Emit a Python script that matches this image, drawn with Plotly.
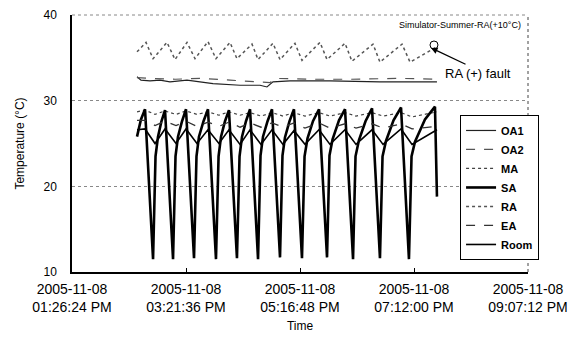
import pandas as pd
import plotly.graph_objects as go

BASE = pd.Timestamp("2005-11-08 13:26:24")

# ---- data (elapsed minutes after 13:26:24, temperature in deg C) ----
sa_min = [65.7, 69.7, 73.8,
          81.9, 84.4, 86.9, 90.4, 94.0,
          102.1, 104.6, 107.1, 111.2, 115.2,
          123.3, 125.8, 128.3, 132.9, 137.4,
          145.5, 148.1, 150.6, 154.6, 158.6,
          166.7, 169.3, 171.8, 175.8, 179.9,
          188.0, 190.5, 193.0, 197.6, 202.1,
          210.2, 212.7, 215.2, 219.8, 224.3,
          232.4, 235.0, 238.0, 243.5, 249.6,
          257.7, 260.2, 263.3, 269.8, 275.9,
          284.0, 286.5, 290.0, 296.6, 303.2,
          311.2, 313.8, 317.3, 324.9, 332.5,
          340.5, 343.1, 346.6, 356.7, 366.8,
          368.8]
sa_val = [25.8, 27.8, 29.0,
          11.5, 23.5, 25.8, 27.6, 28.9,
          11.5, 23.5, 25.8, 27.6, 29.0,
          11.6, 23.5, 25.8, 27.6, 29.0,
          11.5, 23.5, 25.8, 27.6, 28.9,
          11.6, 23.5, 25.8, 27.6, 29.0,
          11.5, 23.6, 25.8, 27.6, 29.0,
          11.7, 23.6, 25.7, 27.6, 29.0,
          11.6, 23.5, 25.6, 27.6, 29.0,
          11.7, 23.6, 25.5, 27.7, 29.0,
          11.5, 23.5, 25.4, 27.6, 29.1,
          11.6, 23.5, 25.3, 27.7, 29.2,
          11.5, 23.5, 25.2, 27.8, 29.3,
          18.8]

ra_min = [65.7, 74.8, 81.9, 96.0, 104.1, 116.2, 124.3, 137.4, 145.5, 159.7, 166.7,
          181.9, 188.0, 203.1, 210.2, 225.3, 232.4, 250.6, 257.7, 275.9, 282.9,
          304.2, 311.2, 333.5, 341.6, 368.8]
ra_val = [35.7, 36.8, 34.9, 36.8, 34.8, 36.8, 34.9, 36.9, 34.9, 36.8, 34.9,
          36.6, 34.8, 36.7, 34.8, 36.7, 34.7, 36.8, 34.8, 36.7, 34.6,
          36.6, 34.5, 36.6, 34.5, 36.3]

oa1_min = [65.7, 69.7, 78.8, 88.9, 99.0, 116.2, 129.3, 142.5, 169.8, 190.0, 197.0,
           203.1, 220.3, 260.7, 311.2, 368.8]
oa1_val = [32.8, 32.4, 32.3, 32.4, 32.2, 32.4, 32.2, 32.0, 31.8, 31.8, 31.6,
           32.2, 32.3, 32.3, 32.2, 32.2]

oa2_min = [65.7, 78.8, 104.1, 129.3, 159.7, 184.9, 200.1, 205.1, 240.5, 280.9, 331.4, 368.8]
oa2_val = [32.7, 32.6, 32.5, 32.6, 32.4, 32.2, 32.1, 32.6, 32.5, 32.5, 32.6, 32.5]

band_min = [65.7, 73.8, 83.9, 94.0, 105.1, 115.2, 126.3, 137.4, 148.5, 158.6, 169.8,
            179.9, 191.0, 202.1, 213.2, 224.3, 235.4, 249.6, 260.7, 275.9, 287.0,
            303.2, 314.3, 332.5, 343.6, 368.8]
ma_val = [28.7, 28.9, 28.4, 28.8, 28.4, 28.8, 28.4, 28.7, 28.3, 28.7, 28.3,
          28.6, 28.2, 28.6, 28.2, 28.6, 28.2, 28.6, 28.2, 28.6, 28.2,
          28.6, 28.2, 28.6, 28.1, 28.7]
ea_val = [27.7, 27.7, 27.1, 27.6, 27.1, 27.6, 27.0, 27.5, 27.0, 27.5, 26.9,
          27.4, 26.9, 27.4, 26.9, 27.4, 26.8, 27.4, 26.8, 27.3, 26.8,
          27.3, 26.8, 27.3, 26.7, 27.0]
room_val = [26.6, 26.7, 25.0, 26.7, 25.0, 26.7, 25.0, 26.6, 25.0, 26.6, 24.9,
            26.6, 24.9, 26.6, 24.9, 26.5, 24.9, 26.6, 24.9, 26.6, 24.9,
            26.6, 24.9, 26.7, 24.9, 26.6]

tick_min = [0.0, 115.2, 230.4, 345.6, 460.8]
tick_text = ["2005-11-08<br>01:26:24 PM", "2005-11-08<br>03:21:36 PM",
             "2005-11-08<br>05:16:48 PM", "2005-11-08<br>07:12:00 PM",
             "2005-11-08<br>09:07:12 PM"]
y_ticks = [10, 20, 30, 40]


def t(mins):
    return [BASE + pd.Timedelta(minutes=m) for m in mins]


FONT = "Liberation Sans, Arial, sans-serif"

fig = go.Figure()
fig.add_trace(go.Scatter(x=t(oa1_min), y=oa1_val, name="OA1", mode="lines",
                         line=dict(color="#222", width=1.2)))
fig.add_trace(go.Scatter(x=t(oa2_min), y=oa2_val, name="OA2", mode="lines",
                         line=dict(color="#555", width=1.2, dash="dash")))
fig.add_trace(go.Scatter(x=t(band_min), y=ma_val, name="MA", mode="lines",
                         line=dict(color="#444", width=1.2, dash="dot")))
fig.add_trace(go.Scatter(x=t(sa_min), y=sa_val, name="SA", mode="lines",
                         line=dict(color="#000", width=2.6)))
fig.add_trace(go.Scatter(x=t(ra_min), y=ra_val, name="RA", mode="lines",
                         line=dict(color="#555", width=1.5, dash="dot")))
fig.add_trace(go.Scatter(x=t(band_min), y=ea_val, name="EA", mode="lines",
                         line=dict(color="#333", width=1.3, dash="dash")))
fig.add_trace(go.Scatter(x=t(band_min), y=room_val, name="Room", mode="lines",
                         line=dict(color="#000", width=1.6)))

x0 = BASE
x1 = BASE + pd.Timedelta(minutes=tick_min[-1])

fig.update_layout(
    width=577, height=338, autosize=False,
    margin=dict(l=72, r=49, t=15, b=66),
    paper_bgcolor="white", plot_bgcolor="white",
    font=dict(family=FONT, size=12, color="black"),
    showlegend=True,
    legend=dict(x=0.851, y=0.611, xanchor="left", yanchor="top",
                bgcolor="white", bordercolor="black", borderwidth=1,
                font=dict(family=FONT, size=11, color="black", weight="bold"),
                tracegroupgap=0, itemwidth=30),
    xaxis=dict(type="date", range=[x0, x1], tickvals=t(tick_min), ticktext=tick_text,
               ticks="inside", ticklen=4, tickcolor="black", showgrid=False,
               showline=True, linecolor="black", linewidth=1.5, zeroline=False,
               tickfont=dict(size=14), ticklabelstandoff=3, automargin=False,
               title=dict(text="Time", font=dict(size=12), standoff=8)),
    yaxis=dict(range=[10, 40], tickvals=y_ticks, ticks="", showgrid=True,
               gridcolor="#888", griddash="dot", gridwidth=1,
               showline=True, linecolor="black", linewidth=1.5, zeroline=False,
               tickfont=dict(size=12), ticklabelstandoff=11, automargin=False,
               title=dict(text="Temperature (°C)", font=dict(size=12), standoff=16)),
)

# dotted top/right border of the plot area
fig.add_shape(type="line", xref="paper", yref="paper", x0=1, x1=1, y0=0, y1=1,
              line=dict(color="#444", width=1, dash="dot"))
fig.add_shape(type="line", xref="paper", yref="paper", x0=0, x1=1, y0=1, y1=1,
              line=dict(color="#888", width=1, dash="dot"))

# fault marker circle and arrow
mark_t = BASE + pd.Timedelta(minutes=365.8)
fig.add_shape(type="circle", xref="x", yref="y", xsizemode="pixel", ysizemode="pixel",
              xanchor=mark_t, yanchor=36.5, x0=-4, x1=4, y0=-4, y1=4,
              line=dict(color="black", width=1))
fig.add_annotation(x=BASE + pd.Timedelta(minutes=362.8), y=36.15, xref="x", yref="y",
                   text="", showarrow=True, ax=36, ay=17, arrowhead=2, arrowsize=1,
                   arrowwidth=1.3, arrowcolor="black")
fig.add_annotation(x=BASE + pd.Timedelta(minutes=374.9), y=33.2, xref="x", yref="y",
                   text="RA (+) fault", showarrow=False, xanchor="left", yanchor="middle",
                   font=dict(size=13, color="black"))
fig.add_annotation(x=BASE + pd.Timedelta(minutes=455.7), y=38.85, xref="x", yref="y",
                   text="Simulator-Summer-RA(+10°C)", showarrow=False, xanchor="right",
                   yanchor="middle", font=dict(size=9, color="black"))

fig.write_html("out.html")
